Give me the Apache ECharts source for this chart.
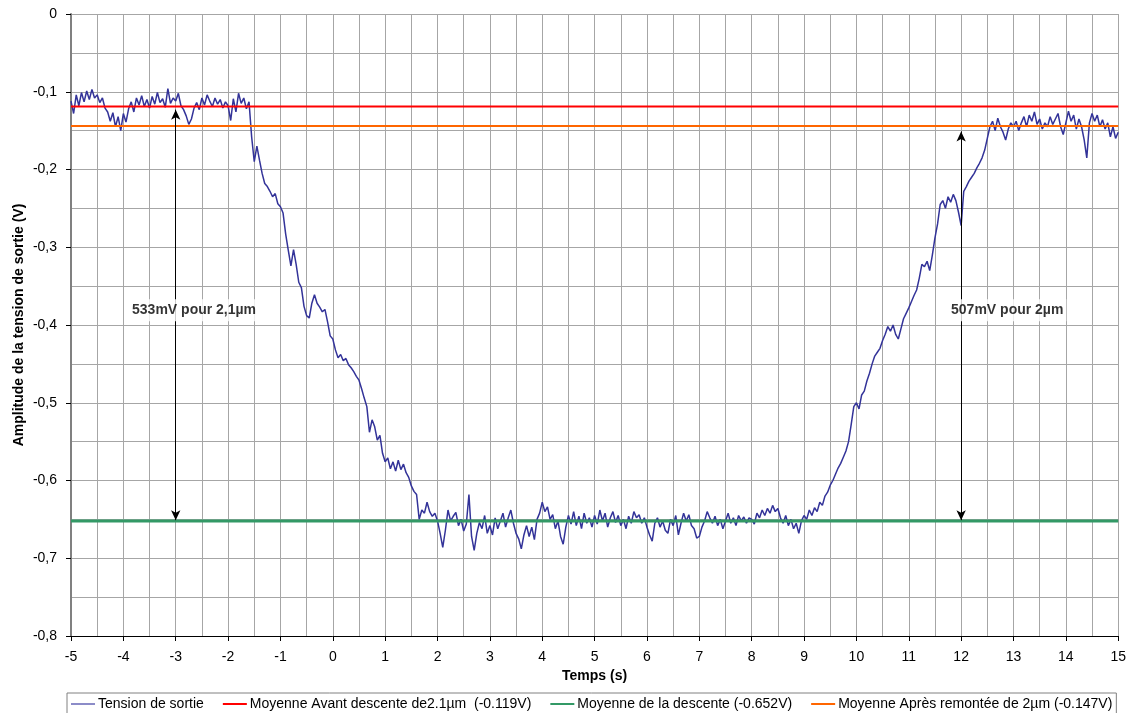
<!DOCTYPE html>
<html>
<head>
<meta charset="utf-8">
<script src="https://cdn.jsdelivr.net/npm/echarts@6/dist/echarts.min.js"></script>
<style>html,body{margin:0;padding:0;background:#fff}#c{width:1129px;height:713px}</style>
</head>
<body>
<div id="c"></div>
<script>
// ---- data ----
const timeStart = -5;      // s, first sample
const timeStep = 0.05;     // s, sampling step
const tension = [
  // -5 .. -4.05
  -0.112,-0.128,-0.104,-0.118,-0.101,-0.113,-0.099,-0.110,-0.097,-0.108,-0.104,-0.114,-0.108,-0.121,-0.126,-0.138,-0.127,-0.145,-0.132,-0.150,
  // -4 .. -3.05
  -0.128,-0.139,-0.122,-0.113,-0.126,-0.108,-0.117,-0.105,-0.119,-0.110,-0.121,-0.106,-0.116,-0.101,-0.114,-0.109,-0.120,-0.096,-0.115,-0.108,
  // -3 .. -2.05
  -0.112,-0.102,-0.118,-0.123,-0.131,-0.142,-0.135,-0.121,-0.114,-0.123,-0.108,-0.117,-0.104,-0.112,-0.119,-0.108,-0.116,-0.110,-0.121,-0.113,
  // -2 .. -1.05
  -0.118,-0.137,-0.109,-0.126,-0.102,-0.115,-0.108,-0.122,-0.113,-0.158,-0.190,-0.170,-0.188,-0.205,-0.218,-0.222,-0.228,-0.235,-0.231,-0.244,
  // -1 .. -0.05
  -0.248,-0.256,-0.283,-0.304,-0.324,-0.303,-0.322,-0.345,-0.352,-0.376,-0.388,-0.391,-0.372,-0.361,-0.372,-0.377,-0.383,-0.380,-0.396,-0.414,
  // 0 .. 0.95
  -0.418,-0.432,-0.442,-0.438,-0.446,-0.443,-0.451,-0.455,-0.460,-0.466,-0.471,-0.482,-0.494,-0.505,-0.538,-0.522,-0.531,-0.548,-0.542,-0.565,
  // 1 .. 1.95
  -0.576,-0.571,-0.585,-0.576,-0.588,-0.574,-0.586,-0.579,-0.590,-0.596,-0.607,-0.614,-0.618,-0.650,-0.638,-0.642,-0.628,-0.640,-0.646,-0.642,
  // 2 .. 2.95
  -0.652,-0.668,-0.686,-0.664,-0.638,-0.652,-0.646,-0.641,-0.658,-0.650,-0.665,-0.656,-0.618,-0.672,-0.690,-0.668,-0.654,-0.662,-0.645,-0.668,
  // 3 .. 3.95
  -0.658,-0.670,-0.648,-0.662,-0.652,-0.642,-0.660,-0.648,-0.638,-0.655,-0.668,-0.675,-0.688,-0.670,-0.658,-0.672,-0.660,-0.676,-0.650,-0.642,
  // 4 .. 4.95
  -0.628,-0.640,-0.634,-0.650,-0.644,-0.662,-0.652,-0.672,-0.682,-0.660,-0.645,-0.656,-0.640,-0.658,-0.646,-0.662,-0.642,-0.655,-0.648,-0.660,
  // 5 .. 5.95
  -0.645,-0.656,-0.638,-0.652,-0.642,-0.660,-0.648,-0.640,-0.654,-0.645,-0.658,-0.650,-0.662,-0.646,-0.655,-0.640,-0.648,-0.644,-0.655,-0.648,
  // 6 .. 6.95
  -0.660,-0.670,-0.678,-0.655,-0.648,-0.660,-0.652,-0.664,-0.668,-0.650,-0.658,-0.645,-0.670,-0.655,-0.642,-0.652,-0.644,-0.658,-0.662,-0.674,
  // 7 .. 7.95
  -0.672,-0.660,-0.652,-0.640,-0.648,-0.655,-0.646,-0.658,-0.650,-0.662,-0.652,-0.642,-0.655,-0.648,-0.658,-0.645,-0.652,-0.647,-0.655,-0.648,
  // 8 .. 8.95
  -0.650,-0.656,-0.642,-0.648,-0.638,-0.645,-0.636,-0.642,-0.632,-0.640,-0.636,-0.648,-0.655,-0.645,-0.658,-0.650,-0.662,-0.655,-0.668,-0.652,
  // 9 .. 9.95
  -0.645,-0.650,-0.638,-0.645,-0.635,-0.640,-0.628,-0.632,-0.620,-0.615,-0.606,-0.600,-0.592,-0.584,-0.578,-0.570,-0.562,-0.550,-0.528,-0.505,
  // 10 .. 10.95
  -0.500,-0.508,-0.490,-0.485,-0.472,-0.462,-0.450,-0.440,-0.435,-0.430,-0.420,-0.412,-0.402,-0.408,-0.400,-0.412,-0.418,-0.405,-0.392,-0.385,
  // 11 .. 11.95
  -0.378,-0.370,-0.362,-0.355,-0.340,-0.322,-0.325,-0.318,-0.330,-0.310,-0.288,-0.270,-0.245,-0.240,-0.250,-0.235,-0.242,-0.232,-0.240,-0.255,
  // 12 .. 12.95
  -0.272,-0.228,-0.222,-0.215,-0.210,-0.205,-0.198,-0.192,-0.185,-0.175,-0.160,-0.145,-0.138,-0.150,-0.134,-0.145,-0.152,-0.162,-0.148,-0.140,
  // 13 .. 13.95
  -0.145,-0.138,-0.150,-0.140,-0.132,-0.145,-0.130,-0.138,-0.126,-0.142,-0.135,-0.148,-0.140,-0.145,-0.132,-0.142,-0.135,-0.128,-0.145,-0.155,
  // 14 .. 15
  -0.140,-0.125,-0.138,-0.130,-0.148,-0.135,-0.145,-0.162,-0.185,-0.140,-0.128,-0.138,-0.130,-0.145,-0.136,-0.148,-0.140,-0.158,-0.145,-0.160,
  -0.152
];
const seriesNames = [
  'Tension de sortie',
  'Moyenne Avant descente de2.1µm  (-0.119V)',
  'Moyenne de la descente (-0.652V)',
  'Moyenne Après remontée de 2µm (-0.147V)'
];
const meanValues = [-0.119, -0.652, -0.144];   // drawn levels of the three means
const arrowX = [-3, 12];
const arrowTop = [-0.123, -0.151];
const arrowBottom = [-0.651, -0.651];
const annotTexts = ['533mV pour 2,1µm', '507mV pour 2µm'];
const annotX = [-2.65, 12.88];
const annotY = [-0.381, -0.381];
const xMin = -5, xMax = 15, yMin = -0.8, yMax = 0;

// ---- build ----
const mainData = tension.map((v, i) => [timeStart + i * timeStep, v]);
const meanColors = ['#ff0000', '#339966', '#ff6600'];
const meanWidths = [2, 3, 2];
const legendColors = ['#8c8cc8', '#ff0000', '#339966', '#ff6600'];
const font = 'Liberation Sans, Arial, sans-serif';

const series = [{
  name: seriesNames[0], type: 'line', data: mainData, symbol: 'none',
  lineStyle: { color: '#333399', width: 1.5 }, itemStyle: { color: '#333399' },
  z: 2, silent: true
}];
meanValues.forEach((v, k) => {
  series.push({
    name: seriesNames[k + 1], type: 'line', symbol: 'none', silent: true,
    data: [[xMin, v], [xMax, v]],
    lineStyle: { color: meanColors[k], width: meanWidths[k] },
    itemStyle: { color: meanColors[k] }, z: 3
  });
});
series.push({
  name: 'annot', type: 'scatter', symbolSize: 0, silent: true, z: 6,
  data: annotTexts.map((t, k) => [annotX[k], annotY[k], t]),
  label: {
    show: true, position: 'inside', formatter: p => p.value[2],
    fontFamily: font, fontSize: 14, fontWeight: 'bold', color: '#000',
    backgroundColor: '#fff', padding: [4, 3]
  },
  markLine: {
    silent: true, symbol: ['arrow', 'arrow'], symbolSize: [7, 10],
    label: { show: false }, z: 4,
    lineStyle: { color: '#000', width: 1, type: 'solid' },
    data: arrowX.map((x, k) => [{ coord: [x, arrowTop[k]] }, { coord: [x, arrowBottom[k]] }])
  }
});

const chart = echarts.init(document.getElementById('c'));
chart.setOption({
  animation: false,
  backgroundColor: '#fff',
  textStyle: { fontFamily: font },
  grid: { left: 71, right: 8, top: 14, bottom: 77 },
  legend: {
    data: seriesNames.map((n, k) => ({ name: n, icon: 'rect', itemStyle: { color: legendColors[k], borderWidth: 0 } })),
    left: 67, top: 693, padding: [4, 4, 8, 4], itemGap: 19, itemWidth: 24, itemHeight: 2,
    borderColor: '#808080', borderWidth: 1,
    textStyle: { fontFamily: font, fontSize: 14, color: '#000', padding: [0, 0, 0, -2] }
  },
  xAxis: {
    type: 'value', min: xMin, max: xMax, interval: 1,
    name: 'Temps (s)', nameLocation: 'middle', nameGap: 32,
    nameTextStyle: { fontFamily: font, fontSize: 14, fontWeight: 'bold', color: '#000' },
    axisLine: { onZero: false, lineStyle: { color: '#000', width: 1 } },
    axisTick: { show: true, length: 5, lineStyle: { color: '#000' } },
    axisLabel: { margin: 14, fontFamily: font, fontSize: 14, color: '#000' },
    splitLine: { show: true, lineStyle: { color: '#a6a6a6', width: 1 } },
    minorTick: { show: false, splitNumber: 2 },
    minorSplitLine: { show: true, lineStyle: { color: '#a6a6a6', width: 1 } }
  },
  yAxis: {
    type: 'value', min: yMin, max: yMax, interval: 0.1,
    name: 'Amplitude de la tension de sortie (V)', nameLocation: 'middle', nameGap: 45,
    nameMoveOverlap: false,
    nameTextStyle: { fontFamily: font, fontSize: 14, fontWeight: 'bold', color: '#000' },
    axisLine: { show: true, onZero: false, lineStyle: { color: '#808080', width: 2 } },
    axisTick: { show: true, length: 5, lineStyle: { color: '#000' } },
    axisLabel: {
      margin: 14, fontFamily: font, fontSize: 14, color: '#000',
      formatter: v => { const r = Math.round(v * 10) / 10; return r === 0 ? '0' : r.toFixed(1).replace('.', ','); }
    },
    splitLine: { show: true, lineStyle: { color: '#a6a6a6', width: 1 } },
    minorTick: { show: false, splitNumber: 2 },
    minorSplitLine: { show: true, lineStyle: { color: '#a6a6a6', width: 1 } }
  },
  series: series
});
</script>
</body>
</html>
